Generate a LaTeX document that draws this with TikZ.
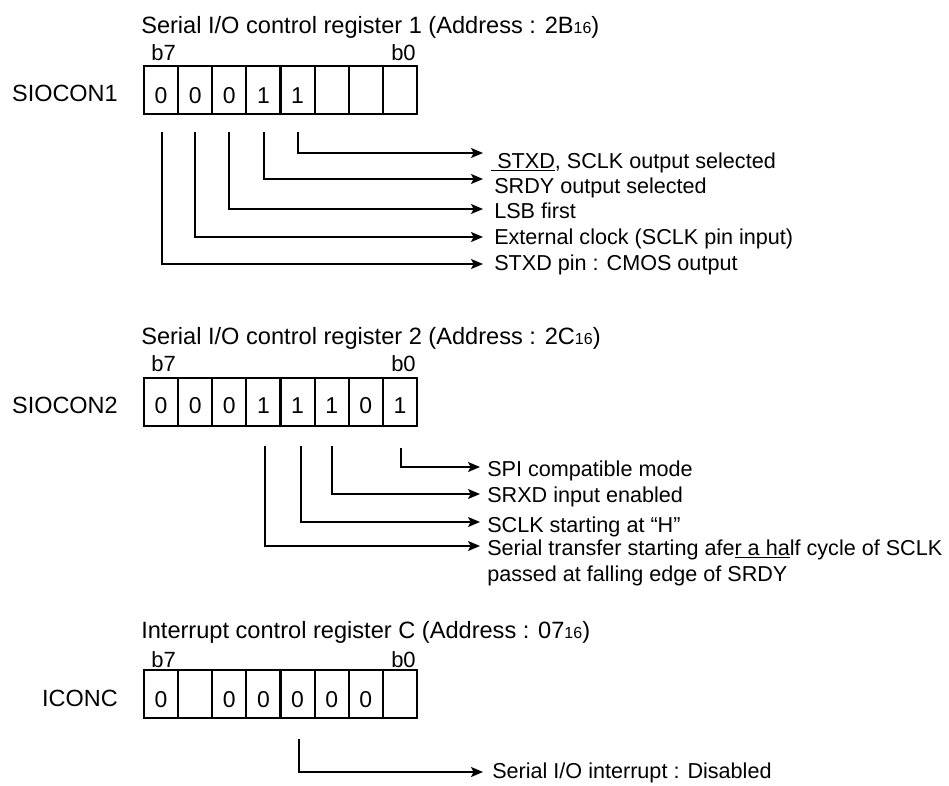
\documentclass[tikz,border=0pt]{standalone}
\usepackage{fontspec}
\setmainfont{Liberation Sans}
\usetikzlibrary{arrows.meta}
\newcommand{\subsx}[1]{{\fontsize{12}{13}\selectfont #1}}
\begin{document}
\begin{tikzpicture}[x=0.75pt,y=-0.75pt,
  cell/.style={draw, line width=1.5pt, minimum width=25.575pt, minimum height=36pt, inner sep=0pt, outer sep=0pt},
  conn/.style={line width=1.1pt, -{Stealth[length=9pt,width=7.5pt,inset=2pt]}},
  titletxt/.style={anchor=base west, inner sep=0pt, font=\fontsize{17.7}{20}\selectfont},
  regname/.style={anchor=base east, inner sep=0pt, font=\fontsize{17.6}{20}\selectfont},
  bitno/.style={inner sep=0pt, font=\fontsize{16.5}{18}\selectfont},
  digit/.style={anchor=base, inner sep=0pt, font=\fontsize{17.2}{19}\selectfont},
  lab/.style={anchor=base west, inner sep=0pt, font=\fontsize{16.2}{18}\selectfont}
]
\useasboundingbox (0,0) rectangle (949,785);

% ---------------- Register 1 ----------------
\node[titletxt] (t1) at (141,33) {Serial I/O control register 1 (Address : 2B\subsx{16})};
\node[bitno, anchor=base west] (r1b7) at (151,60) {b7};
\node[bitno, anchor=base east] (r1b0) at (416,60) {b0};
\node[regname] (n1) at (118,101) {SIOCON1};
\foreach \i/\v in {0/0,1/0,2/0,3/1,4/1,5/,6/,7/} {
  \node[cell] (r1c\i) at ({144+34.125*(\i+0.5)},90) {};
  \node[digit] (r1d\i) at ({144+34.125*(\i+0.5)},103) {\v};
}
\coordinate (s1a) at (298,132); \coordinate (e1a) at (483,153);
\coordinate (s1b) at (264,132); \coordinate (e1b) at (483,179);
\coordinate (s1c) at (229,132); \coordinate (e1c) at (483,209);
\coordinate (s1d) at (195,132); \coordinate (e1d) at (483,237);
\coordinate (s1e) at (162,132); \coordinate (e1e) at (483,264);
\foreach \k in {a,b,c,d,e} { \draw[conn] (s1\k) |- (e1\k); }
\node[lab] (l1a) at (491,168) {\underline{\ STXD}, SCLK output selected};
\node[lab] (l1b) at (494,193) {SRDY output selected};
\node[lab] (l1c) at (494,218) {LSB first};
\node[lab] (l1d) at (494,244) {External clock (SCLK pin input)};
\node[lab] (l1e) at (494,270) {STXD pin : CMOS output};

% ---------------- Register 2 ----------------
\node[titletxt] (t2) at (141,344) {Serial I/O control register 2 (Address : 2C\subsx{16})};
\node[bitno, anchor=base west] (r2b7) at (151,371) {b7};
\node[bitno, anchor=base east] (r2b0) at (416,371) {b0};
\node[regname] (n2) at (118,413) {SIOCON2};
\foreach \i/\v in {0/0,1/0,2/0,3/1,4/1,5/1,6/0,7/1} {
  \node[cell] (r2c\i) at ({144+34.125*(\i+0.5)},402) {};
  \node[digit] (r2d\i) at ({144+34.125*(\i+0.5)},413) {\v};
}
\coordinate (s2a) at (401,448); \coordinate (e2a) at (480,467);
\coordinate (s2b) at (332,446); \coordinate (e2b) at (480,494);
\coordinate (s2c) at (301,446); \coordinate (e2c) at (480,522);
\coordinate (s2d) at (265,446); \coordinate (e2d) at (480,546);
\foreach \k in {a,b,c,d} { \draw[conn] (s2\k) |- (e2\k); }
\node[lab] (l2a) at (487,476) {SPI compatible mode};
\node[lab] (l2b) at (487,502) {SRXD input enabled};
\node[lab] (l2c) at (487,532) {SCLK starting at “H”};
\node[lab] (l2d) at (487,555) {Serial transfer starting afe\underline{r a ha}lf cycle of SCLK};
\node[lab] (l2e) at (487,581) {passed at falling edge of SRDY};

% ---------------- Register 3 ----------------
\node[titletxt] (t3) at (141,638) {Interrupt control register C (Address : 07\subsx{16})};
\node[bitno, anchor=base west] (r3b7) at (151,667) {b7};
\node[bitno, anchor=base east] (r3b0) at (416,667) {b0};
\node[regname] (n3) at (118,706) {ICONC};
\foreach \i/\v in {0/0,1/,2/0,3/0,4/0,5/0,6/0,7/} {
  \node[cell] (r3c\i) at ({144+34.125*(\i+0.5)},694) {};
  \node[digit] (r3d\i) at ({144+34.125*(\i+0.5)},707) {\v};
}
\coordinate (s3a) at (299,739); \coordinate (e3a) at (483,772);
\draw[conn] (s3a) |- (e3a);
\node[lab] (l3a) at (492,778) {Serial I/O interrupt : Disabled};
\end{tikzpicture}
\end{document}
